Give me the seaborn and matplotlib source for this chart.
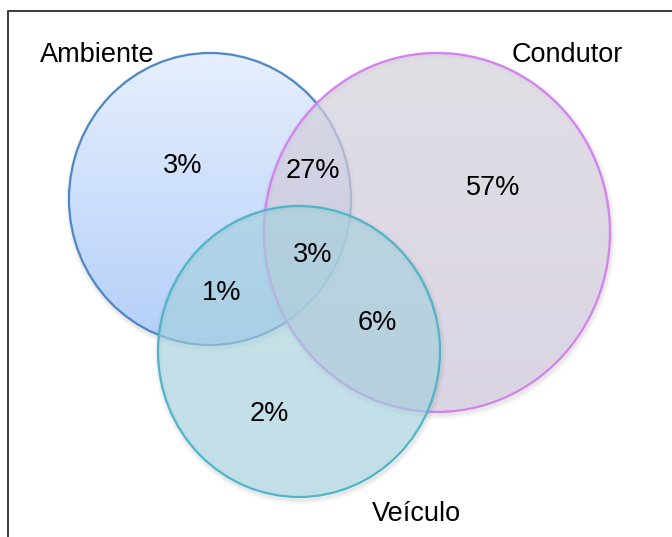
import numpy as np
import matplotlib
matplotlib.use("Agg")
import matplotlib.pyplot as plt
import seaborn as sns
from matplotlib.patches import Ellipse
from matplotlib.colors import LinearSegmentedColormap

# data: the three sets and the share of each region of the diagram
set_names = ["Ambiente", "Condutor", "Veículo"]
region_names = ["Ambiente", "Ambiente+Condutor", "Condutor",
                "Ambiente+Condutor+Veículo", "Ambiente+Veículo",
                "Condutor+Veículo", "Veículo"]
region_values = [3, 27, 57, 3, 1, 6, 2]

# layout (pixel coordinates of the 672x537 canvas, y downwards)
circle_center = {"Ambiente": (210, 199), "Condutor": (437, 232.5), "Veículo": (299, 351.5)}
circle_size = {"Ambiente": (282, 292), "Condutor": (346, 359), "Veículo": (282, 291)}
set_label_pos = {"Ambiente": (97, 55), "Condutor": (567, 55), "Veículo": (416, 514)}
region_pos = {"Ambiente": (183, 166), "Ambiente+Condutor": (313, 171),
              "Condutor": (493, 188), "Ambiente+Condutor+Veículo": (313, 255),
              "Ambiente+Veículo": (222, 293), "Condutor+Veículo": (377, 323),
              "Veículo": (269, 414)}

# styles
fill_top = {"Ambiente": "#e6effd", "Condutor": "#d6d2dc", "Veículo": "#a6d2de"}
fill_bottom = {"Ambiente": "#b4cffa", "Condutor": "#ccc4d8", "Veículo": "#a0cedb"}
edge_color = {"Ambiente": "#4f87c4", "Condutor": "#d47ff2", "Veículo": "#4db6cb"}
fill_alpha = {"Ambiente": 1.0, "Condutor": 0.72, "Veículo": 0.64}

sns.set_theme(style="white")
plt.rcParams["font.family"] = ["Liberation Sans", "DejaVu Sans"]

fig = plt.figure(figsize=(6.72, 5.37), dpi=100)
ax = fig.add_axes([0, 0, 1, 1])
ax.set_xlim(0, 672)
ax.set_ylim(537, 0)
ax.axis("off")

# outer frame
ax.plot([7.5, 7.5, 672], [537, 10.5, 10.5], color="#3a3a3a", lw=1.4, zorder=1)

z = 2
for name in set_names:
    cx, cy = circle_center[name]
    w, h = circle_size[name]
    # soft shadow just outside the rim
    for lw, a in [(6, 0.04), (4, 0.05), (2, 0.07)]:
        sh = Ellipse((cx + 1, cy + 2.5), w + 1, h + 1, facecolor="none",
                     edgecolor="#707070", lw=lw, alpha=a, zorder=z)
        ax.add_patch(sh)
    clip = Ellipse((cx, cy), w, h, facecolor="none", edgecolor="none", zorder=z + 1)
    ax.add_patch(clip)
    cmap = LinearSegmentedColormap.from_list(name, [fill_top[name], fill_bottom[name]])
    grad = np.linspace(0, 1, 256).reshape(-1, 1)
    img = ax.imshow(grad, cmap=cmap, aspect="auto", alpha=fill_alpha[name],
                    extent=(cx - w / 2, cx + w / 2, cy + h / 2, cy - h / 2),
                    zorder=z + 1, interpolation="bilinear")
    img.set_clip_path(clip)
    ax.add_patch(Ellipse((cx, cy), w, h, facecolor="none",
                         edgecolor=edge_color[name], lw=1.6, zorder=z + 2))
    z += 3

ax.set_xlim(0, 672)
ax.set_ylim(537, 0)

for name in set_names:
    x, y = set_label_pos[name]
    ax.text(x, y, name, fontsize=19.5, ha="center", va="center", color="black", zorder=30)

for name, val in zip(region_names, region_values):
    x, y = region_pos[name]
    ax.text(x, y, f"{val}%", fontsize=19.5, ha="center", va="center", color="black", zorder=30)

fig.savefig("out.png", dpi=100)
